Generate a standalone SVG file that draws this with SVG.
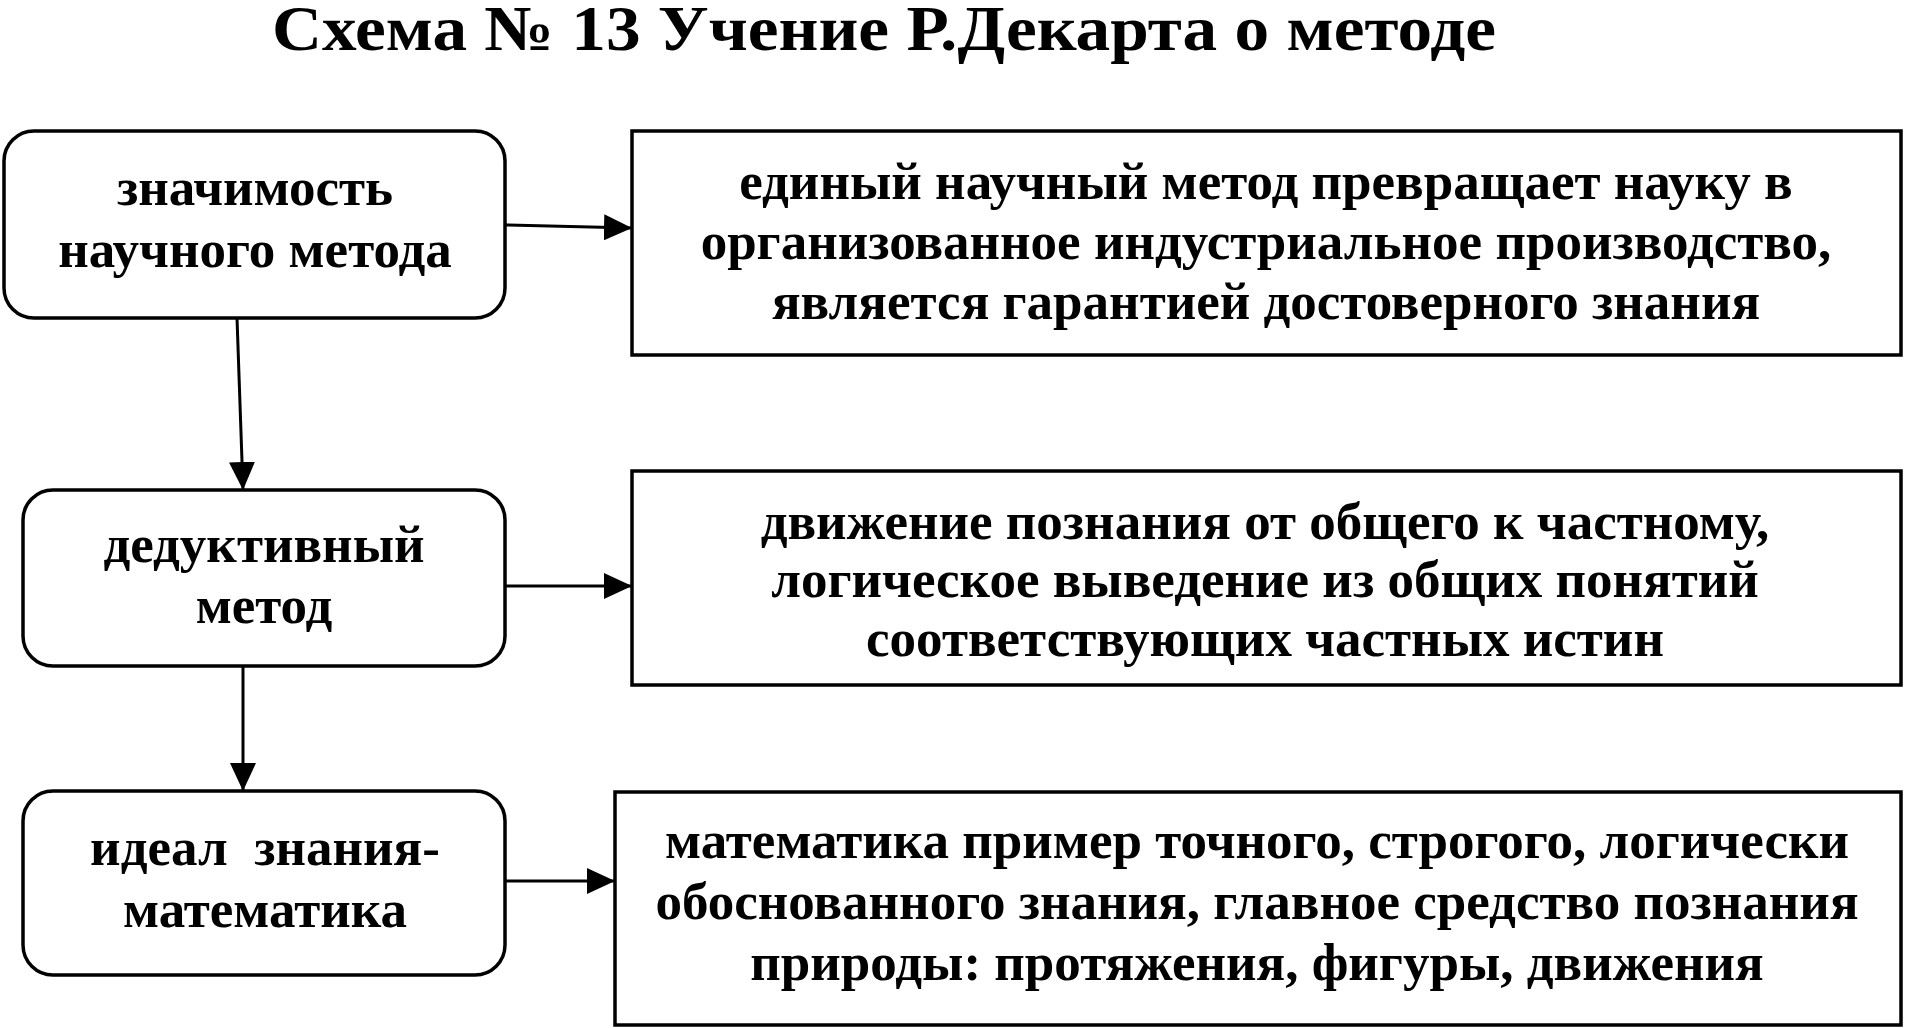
<svg xmlns="http://www.w3.org/2000/svg" width="1905" height="1028" viewBox="0 0 1905 1028">
<style>
text{font-family:"Liberation Serif","Times New Roman",serif;font-weight:bold;fill:#000;text-anchor:middle}
.t{font-size:64px}
.n{font-size:53px}
.box{fill:#fff;stroke:#000;stroke-width:3.5}
.c{stroke:#000;stroke-width:3;fill:none}
</style>
<defs>
<marker id="ah" markerUnits="userSpaceOnUse" markerWidth="28" markerHeight="26" viewBox="0 0 28 26" refX="28" refY="13" orient="auto">
<path d="M0,0 L28,13 L0,26 Z" fill="#000"/>
</marker>
</defs>
<rect width="1905" height="1028" fill="#fff"/>
<text class="t" x="884" y="50" textLength="1224" lengthAdjust="spacingAndGlyphs">Схема № 13 Учение Р.Декарта о методе</text>
<g id="connectors">
<line class="c" x1="505" y1="225" x2="632" y2="228" marker-end="url(#ah)"/>
<line class="c" x1="237" y1="318" x2="243" y2="490" marker-end="url(#ah)"/>
<line class="c" x1="505" y1="586" x2="632" y2="586" marker-end="url(#ah)"/>
<line class="c" x1="243" y1="666" x2="243" y2="791" marker-end="url(#ah)"/>
<line class="c" x1="505" y1="881" x2="615" y2="881" marker-end="url(#ah)"/>
</g>
<g id="n1">
<rect class="box" x="4" y="131" width="501" height="187" rx="30" ry="30"/>
<text class="n" x="255" y="205">значимость</text>
<text class="n" x="255" y="267">научного метода</text>
</g>
<g id="n2">
<rect class="box" x="23" y="490" width="482" height="176" rx="30" ry="30"/>
<text class="n" x="264" y="562">дедуктивный</text>
<text class="n" x="264" y="623">метод</text>
</g>
<g id="n3">
<rect class="box" x="23" y="791" width="482" height="184" rx="30" ry="30"/>
<text class="n" x="265" y="865" xml:space="preserve">идеал  знания-</text>
<text class="n" x="265" y="927">математика</text>
</g>
<g id="r1">
<rect class="box" x="632" y="131" width="1269" height="224"/>
<text class="n" x="1266" y="199">единый научный метод превращает науку в</text>
<text class="n" x="1266" y="259">организованное индустриальное производство,</text>
<text class="n" x="1266" y="319">является гарантией достоверного знания</text>
</g>
<g id="r2">
<rect class="box" x="632" y="471" width="1269" height="214"/>
<text class="n" x="1265" y="539">движение познания от общего к частному,</text>
<text class="n" x="1265" y="597">логическое выведение из общих понятий</text>
<text class="n" x="1265" y="656">соответствующих частных истин</text>
</g>
<g id="r3">
<rect class="box" x="615" y="792" width="1286" height="233"/>
<text class="n" x="1257" y="858">математика пример точного, строгого, логически</text>
<text class="n" x="1257" y="919">обоснованного знания, главное средство познания</text>
<text class="n" x="1257" y="980">природы: протяжения, фигуры, движения</text>
</g>
</svg>
